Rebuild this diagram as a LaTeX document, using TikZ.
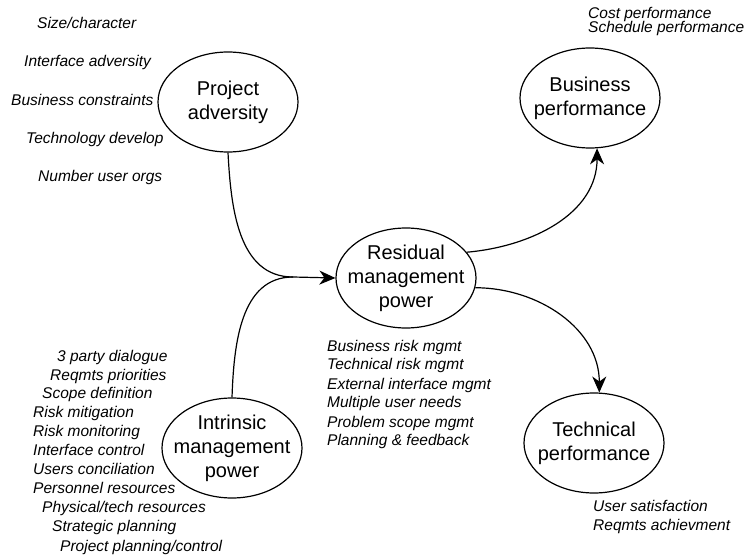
\documentclass[tikz,border=0pt]{standalone}
\usepackage{fontspec}
\setmainfont{Liberation Sans}
\usetikzlibrary{arrows.meta,shapes.geometric}
\tikzset{
  blob/.style={draw, ellipse, line width=1.2pt, minimum width=140pt, minimum height=100pt,
               inner xsep=-12pt, inner ysep=-10pt, align=center, font=\fontsize{20}{24}\selectfont},
  item/.style={anchor=west, inner sep=0pt, text height=11pt, text depth=3pt,
               font=\itshape\fontsize{15.5}{18}\selectfont},
  arr/.style={-{Stealth[length=16pt, width=14pt, inset=5pt]}, line width=1.2pt},
  link/.style={line width=1.2pt}
}
\begin{document}
\begin{tikzpicture}[x=1pt, y=1pt]
\useasboundingbox (0,0) rectangle (749,-556);
% the five ellipses
\node[blob] (pa)  at (228,-102) {Project\\ adversity};
\node[blob] (bp)  at (590,-98)  {Business\\ performance};
\node[blob] (rmp) at (406,-278) {Residual\\ management\\ power};
\node[blob] (tp)  at (594,-443) {Technical\\ performance};
\node[blob] (imp) at (232,-448) {Intrinsic\\ management\\ power};
\coordinate (join) at (293,-277);
% adversity factors
\node[item] (a1) at (37,-25)  {Size/character};
\node[item] (a2) at (24,-63)  {Interface adversity};
\node[item] (a3) at (11,-102) {Business constraints};
\node[item] (a4) at (26,-140) {Technology develop};
\node[item] (a5) at (38,-178) {Number user orgs};
% business measures
\node[item] (b1) at (588,-15) {Cost performance};
\node[item] (b2) at (588,-29) {Schedule performance};
% residual items
\node[item] (r1) at (327,-347) {Business risk mgmt};
\node[item] (r2) at (327,-365) {Technical risk mgmt};
\node[item] (r3) at (327,-385) {External interface mgmt};
\node[item] (r4) at (327,-403) {Multiple user needs};
\node[item] (r5) at (327,-423) {Problem scope mgmt};
\node[item] (r6) at (327,-441) {Planning \& feedback};
% technical measures
\node[item] (t1) at (593,-507) {User satisfaction};
\node[item] (t2) at (593,-526) {Reqmts achievment};
% intrinsic items
\node[item] (i1)  at (57,-357) {3 party dialogue};
\node[item] (i2)  at (50,-376) {Reqmts priorities};
\node[item] (i3)  at (42,-394) {Scope definition};
\node[item] (i4)  at (33,-413) {Risk mitigation};
\node[item] (i5)  at (33,-432) {Risk monitoring};
\node[item] (i6)  at (33,-451) {Interface control};
\node[item] (i7)  at (33,-470) {Users conciliation};
\node[item] (i8)  at (33,-489) {Personnel resources};
\node[item] (i9)  at (42,-508) {Physical/tech resources};
\node[item] (i10) at (52,-527) {Strategic planning};
\node[item] (i11) at (60,-547) {Project planning/control};
% connectors
\draw[link] (pa.south) to[out=-87, in=180] (join);
\draw[link] (imp.north) to[out=88, in=180] (join);
\draw[arr] (join) -- (rmp.west);
\draw[arr] (rmp.23) to[out=5, in=-90] (bp.-82);
\draw[arr] (rmp.-8) to[out=0, in=90] (tp.84);
\end{tikzpicture}
\end{document}
